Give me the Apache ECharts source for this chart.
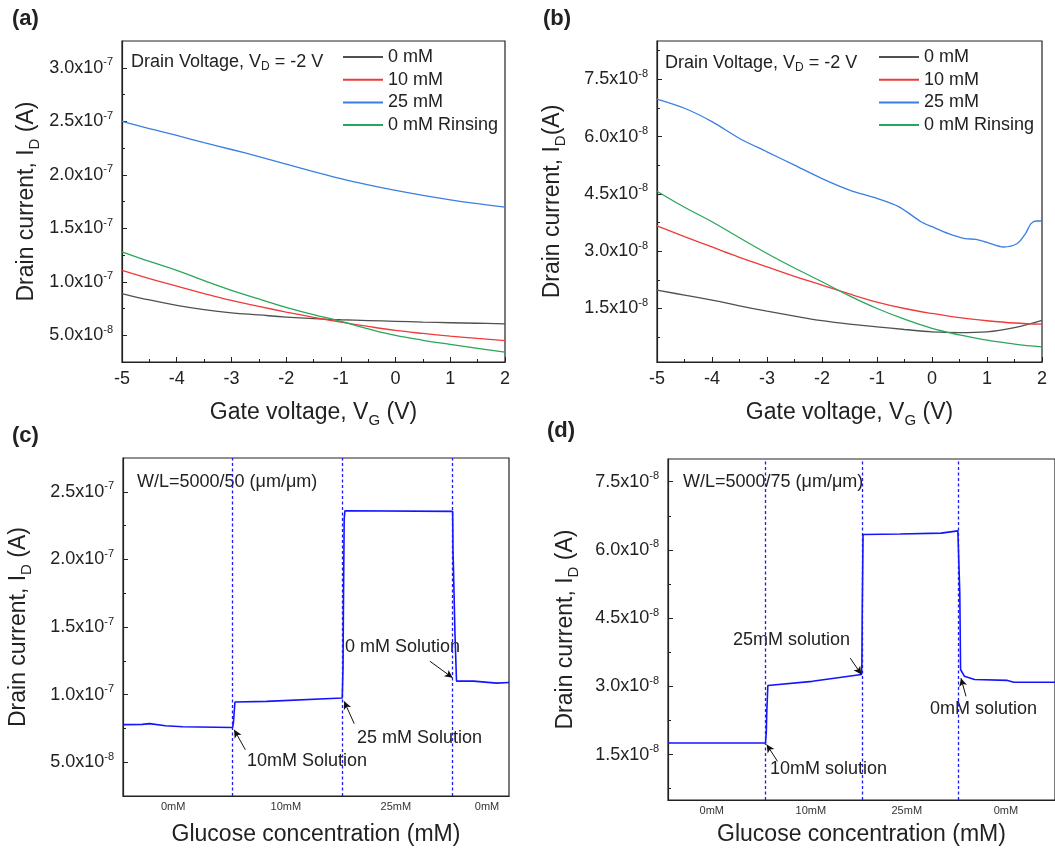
<!DOCTYPE html>
<html>
<head>
<meta charset="utf-8">
<script src="https://cdn.jsdelivr.net/npm/echarts@6/dist/echarts.min.js"></script>
<style>
html,body{margin:0;padding:0;background:#fff;}
#c{width:1055px;height:852px;}
</style>
</head>
<body>
<div id="c"></div>
<script>
// ---------------- DATA ----------------
const seriesNames = ['0 mM', '10 mM', '25 mM', '0 mM Rinsing'];
const seriesColors = ['#505050', '#f03a3a', '#3b7fe0', '#2aa65a'];

const gateV = [-5, -4.5, -4, -3.5, -3, -2.5, -2, -1.5, -1, -0.5, 0, 0.5, 1, 1.5, 2];

// Panel (a)
const a_0mM    = [8.9e-8, 8.3e-8, 7.8e-8, 7.4e-8, 7.1e-8, 6.9e-8, 6.7e-8, 6.55e-8, 6.45e-8, 6.37e-8, 6.3e-8, 6.23e-8, 6.17e-8, 6.12e-8, 6.07e-8];
const a_10mM   = [1.106e-7, 1.03e-7, 9.6e-8, 8.9e-8, 8.25e-8, 7.7e-8, 7.17e-8, 6.68e-8, 6.23e-8, 5.82e-8, 5.45e-8, 5.17e-8, 4.92e-8, 4.7e-8, 4.5e-8];
const a_25mM   = [2.498e-7, 2.43e-7, 2.367e-7, 2.3e-7, 2.236e-7, 2.17e-7, 2.10e-7, 2.03e-7, 1.963e-7, 1.905e-7, 1.853e-7, 1.807e-7, 1.766e-7, 1.73e-7, 1.698e-7];
const a_rinse  = [1.28e-7, 1.19e-7, 1.106e-7, 1.01e-7, 9.2e-8, 8.4e-8, 7.6e-8, 6.93e-8, 6.3e-8, 5.6e-8, 4.98e-8, 4.53e-8, 4.14e-8, 3.77e-8, 3.43e-8];

// Panel (b)
const b_0mM    = [1.98e-8, 1.85e-8, 1.72e-8, 1.57e-8, 1.43e-8, 1.3e-8, 1.18e-8, 1.09e-8, 1.02e-8, 9.5e-9, 8.9e-9, 8.7e-9, 8.9e-9, 1.0e-8, 1.19e-8];
const b_10mM   = [3.66e-8, 3.38e-8, 3.11e-8, 2.84e-8, 2.59e-8, 2.34e-8, 2.11e-8, 1.88e-8, 1.67e-8, 1.5e-8, 1.37e-8, 1.26e-8, 1.18e-8, 1.12e-8, 1.09e-8];
const b_rinse  = [4.57e-8, 4.15e-8, 3.77e-8, 3.35e-8, 2.94e-8, 2.56e-8, 2.2e-8, 1.83e-8, 1.5e-8, 1.22e-8, 9.8e-9, 8.1e-9, 6.7e-9, 5.7e-9, 4.95e-9];
const b_25mM_V = [-5, -4.5, -4, -3.5, -3, -2.5, -2, -1.5, -1, -0.6, -0.2, 0, 0.3, 0.6, 0.8, 1.0, 1.3, 1.55, 1.7, 1.8, 1.9, 2];
const b_25mM   = [6.98e-8, 6.74e-8, 6.39e-8, 5.95e-8, 5.6e-8, 5.25e-8, 4.9e-8, 4.6e-8, 4.38e-8, 4.16e-8, 3.77e-8, 3.64e-8, 3.46e-8, 3.33e-8, 3.31e-8, 3.23e-8, 3.11e-8, 3.2e-8, 3.46e-8, 3.72e-8, 3.79e-8, 3.79e-8];

// Panel (c) transient (time in arbitrary units 0..1000)
const cTime = [0, 50, 69, 110, 155, 284, 286, 290, 372, 568, 570, 571, 573, 575, 854, 855, 856, 860, 864, 908, 968, 1000];
const cCurr = [7.78e-8, 7.8e-8, 7.85e-8, 7.7e-8, 7.62e-8, 7.57e-8, 7.9e-8, 9.45e-8, 9.5e-8, 9.75e-8, 1.2e-7, 1.62e-7, 2.3e-7, 2.36e-7, 2.355e-7, 2.05e-7, 1.95e-7, 1.45e-7, 1.1e-7, 1.1e-7, 1.085e-7, 1.09e-7];
const cSwitch = [284, 568, 854];
const cSegLabelPos = [130, 422, 707, 943];
const segLabels = ['0mM', '10mM', '25mM', '0mM'];

// Panel (d)
const dTime = [0, 252, 254, 255, 258, 373, 500, 501, 502, 504, 600, 706, 749, 751, 754, 756, 766, 792, 877, 894, 1000];
const dCurr = [1.755e-8, 1.755e-8, 2.0e-8, 2.38e-8, 3.02e-8, 3.11e-8, 3.26e-8, 3.5e-8, 4.69e-8, 6.34e-8, 6.35e-8, 6.37e-8, 6.42e-8, 6.4e-8, 5.05e-8, 3.37e-8, 3.22e-8, 3.15e-8, 3.13e-8, 3.09e-8, 3.09e-8];
const dSwitch = [252, 501, 751];
const dSegLabelPos = [113, 369, 617, 873];

// Arrow annotations [tailT, tailI, headT, headI, text]
const cArrows = [
  [317, 5.92e-8, 288, 7.40e-8, '10mM Solution'],
  [599, 7.85e-8, 573, 9.5e-8, '25 mM Solution'],
  [795, 1.247e-7, 854, 1.124e-7, '0 mM Solution']
];
const dArrows = [
  [471, 3.62e-8, 499.6, 3.26e-8, '25mM solution'],
  [283, 1.35e-8, 255, 1.72e-8, '10mM solution'],
  [770, 2.78e-8, 757, 3.18e-8, '0mM solution']
];

// Y tick values
const aYMajor = [5e-8, 1e-7, 1.5e-7, 2e-7, 2.5e-7, 3e-7];
const aYMinor = [7.5e-8, 1.25e-7, 1.75e-7, 2.25e-7, 2.75e-7];
const bYMajor = [1.5e-8, 3e-8, 4.5e-8, 6e-8, 7.5e-8];
const bYMinor = [7.5e-9, 2.25e-8, 3.75e-8, 5.25e-8, 6.75e-8, 8.25e-8];
const cYMajor = [5e-8, 1e-7, 1.5e-7, 2e-7, 2.5e-7];
const cYMinor = [7.5e-8, 1.25e-7, 1.75e-7, 2.25e-7];
const dYMajor = [1.5e-8, 3e-8, 4.5e-8, 6e-8, 7.5e-8];
const dYMinor = [7.5e-9, 2.25e-8, 3.75e-8, 5.25e-8, 6.75e-8];

// ---------------- CHART ----------------
const FONT = '"Liberation Sans", Arial, sans-serif';
const TXT = '#222';

function sci(v) {
  const e = Math.floor(Math.log10(v) + 1e-9);
  const m = v / Math.pow(10, e);
  return '{m|' + m.toFixed(1) + 'x10}{e|' + e + '}';
}
const sciRich = {
  m: { fontSize: 18, lineHeight: 22, fontFamily: FONT, color: TXT },
  e: { fontSize: 11, lineHeight: 12, fontFamily: FONT, color: TXT, verticalAlign: 'top' }
};
const nameRich = {
  n: { fontSize: 23, lineHeight: 30, fontFamily: FONT, color: TXT },
  s: { fontSize: 15, lineHeight: 16, fontFamily: FONT, color: TXT, verticalAlign: 'bottom' }
};

const grids = [
  { left: 122, top: 41, width: 383, height: 321 },
  { left: 657, top: 41, width: 385, height: 321 },
  { left: 123, top: 458, width: 386, height: 338 },
  { left: 668, top: 459, width: 390, height: 341 }
].map(g => Object.assign({ show: true, borderColor: TXT, borderWidth: 1.2, backgroundColor: 'transparent' }, g));

function gateXAxis(gi, gap) {
  return {
    type: 'value', gridIndex: gi, min: -5, max: 2, interval: 1,
    axisLine: { show: true, onZero: false, lineStyle: { color: TXT, width: 1.2 } },
    axisTick: { show: true, inside: true, length: 5, lineStyle: { color: TXT } },
    minorTick: { show: true, splitNumber: 2, length: 3, lineStyle: { color: TXT } },
    splitLine: { show: false },
    axisLabel: { fontSize: 18, fontFamily: FONT, color: TXT, margin: 8 },
    name: '{n|Gate voltage, V}{s|G}{n| (V)}',
    nameLocation: 'middle', nameGap: gap,
    nameTextStyle: { rich: nameRich }
  };
}
function timeXAxis(gi, pos, gap) {
  return {
    type: 'value', gridIndex: gi, min: 0, max: 1000,
    axisLine: { show: true, onZero: false, lineStyle: { color: TXT, width: 1.2 } },
    axisTick: { show: false },
    splitLine: { show: false },
    axisLabel: {
      customValues: pos, fontSize: 11, fontFamily: FONT, color: '#333', margin: 5,
      formatter: v => segLabels[pos.indexOf(v)]
    },
    name: 'Glucose concentration (mM)',
    nameLocation: 'middle', nameGap: gap,
    nameTextStyle: { fontSize: 23, fontFamily: FONT, color: TXT }
  };
}
function yMain(gi, min, max, major, name, gap) {
  return {
    type: 'value', gridIndex: gi, min: min, max: max, position: 'left',
    axisLine: { show: true, onZero: false, lineStyle: { color: TXT, width: 1.2 } },
    axisTick: { show: true, inside: true, length: 5, customValues: major, lineStyle: { color: TXT } },
    splitLine: { show: false },
    axisLabel: { customValues: major, formatter: sci, rich: sciRich, margin: 9 },
    name: name, nameLocation: 'middle', nameGap: gap,
    nameTextStyle: { rich: nameRich }
  };
}
function yMinor(gi, min, max, minor) {
  return {
    type: 'value', gridIndex: gi, min: min, max: max, position: 'left',
    axisLine: { show: false, onZero: false },
    axisTick: { show: true, inside: true, length: 3, customValues: minor, lineStyle: { color: TXT } },
    splitLine: { show: false },
    axisLabel: { show: false }
  };
}

function pairs(xs, ys) { return xs.map((x, i) => [x, ys[i]]); }

function ivSeries(xi, yi, xs, data, idx, smooth) {
  return {
    type: 'line', name: seriesNames[idx], xAxisIndex: xi, yAxisIndex: yi,
    data: pairs(xs, data), showSymbol: false, symbol: 'none', smooth: smooth,
    lineStyle: { color: seriesColors[idx], width: 1.3 },
    itemStyle: { color: seriesColors[idx] },
    animation: false, silent: true
  };
}

function markLines(switches, arrows) {
  const data = switches.map(s => ({
    xAxis: s, symbol: 'none',
    lineStyle: { color: '#1a1aff', width: 1.3, type: [3, 2.5] }
  }));
  arrows.forEach(a => {
    data.push([
      { coord: [a[0], a[1]], symbol: 'none', lineStyle: { color: '#111', width: 1, type: 'solid' } },
      { coord: [a[2], a[3]], symbol: 'arrow', symbolSize: [6, 8] }
    ]);
  });
  return { silent: true, animation: false, symbol: ['none', 'none'], label: { show: false }, data: data };
}

function stepSeries(xi, yi, t, v, switches, arrows) {
  return {
    type: 'line', xAxisIndex: xi, yAxisIndex: yi, data: pairs(t, v),
    showSymbol: false, symbol: 'none', smooth: false,
    lineStyle: { color: '#1414ff', width: 1.6 },
    animation: false, silent: true,
    markLine: markLines(switches, arrows)
  };
}

const yName = '{n|Drain current, I}{s|D}{n| (A)}';
const yNameB = '{n|Drain current, I}{s|D}{n|(A)}';

function txt(x, y, str, size, bold) {
  return {
    type: 'text', x: x, y: y, silent: true,
    style: {
      text: str, fill: TXT, verticalAlign: 'middle',
      font: (bold ? 'bold ' : '') + size + 'px ' + FONT
    }
  };
}
function richTxt(x, y, str) {
  return {
    type: 'text', x: x, y: y, silent: true,
    style: {
      text: str, verticalAlign: 'middle',
      rich: {
        n: { fontSize: 18, lineHeight: 22, fontFamily: FONT, fill: TXT, color: TXT },
        s: { fontSize: 12, lineHeight: 12, fontFamily: FONT, fill: TXT, color: TXT, verticalAlign: 'bottom' }
      }
    }
  };
}

const legendBase = {
  orient: 'vertical', itemWidth: 40, itemHeight: 2, itemGap: 4.7, icon: 'rect',
  selectedMode: false, data: seriesNames,
  textStyle: { fontSize: 18, lineHeight: 18, fontFamily: FONT, color: TXT, padding: [0, 0, 0, 0] }
};

const option = {
  backgroundColor: '#fff',
  animation: false,
  grid: grids,
  xAxis: [gateXAxis(0, 36), gateXAxis(1, 36), timeXAxis(2, cSegLabelPos, 27), timeXAxis(3, dSegLabelPos, 23)],
  yAxis: [
    yMain(0, 2.5e-8, 3.25e-7, aYMajor, yName, 80),
    yMain(1, 1e-9, 8.5e-8, bYMajor, yNameB, 89),
    yMain(2, 2.5e-8, 2.75e-7, cYMajor, yName, 89),
    yMain(3, 5e-9, 8e-8, dYMajor, yName, 87),
    yMinor(0, 2.5e-8, 3.25e-7, aYMinor),
    yMinor(1, 1e-9, 8.5e-8, bYMinor),
    yMinor(2, 2.5e-8, 2.75e-7, cYMinor),
    yMinor(3, 5e-9, 8e-8, dYMinor)
  ],
  legend: [
    Object.assign({ left: 338, top: 43 }, legendBase),
    Object.assign({ left: 874, top: 43 }, legendBase)
  ],
  series: [
    ivSeries(0, 0, gateV, a_0mM, 0, 0.4),
    ivSeries(0, 0, gateV, a_10mM, 1, 0.4),
    ivSeries(0, 0, gateV, a_25mM, 2, 0.4),
    ivSeries(0, 0, gateV, a_rinse, 3, 0.4),
    ivSeries(1, 1, gateV, b_0mM, 0, 0.4),
    ivSeries(1, 1, gateV, b_10mM, 1, 0.4),
    ivSeries(1, 1, b_25mM_V, b_25mM, 2, 0.3),
    ivSeries(1, 1, gateV, b_rinse, 3, 0.4),
    stepSeries(2, 2, cTime, cCurr, cSwitch, cArrows),
    stepSeries(3, 3, dTime, dCurr, dSwitch, dArrows)
  ],
  graphic: [
    txt(12, 19, '(a)', 22, true),
    txt(543, 19, '(b)', 22, true),
    txt(12, 436, '(c)', 22, true),
    txt(547, 431, '(d)', 22, true),
    richTxt(131, 62, '{n|Drain Voltage, V}{s|D}{n| = -2 V}'),
    richTxt(665, 63, '{n|Drain Voltage, V}{s|D}{n| = -2 V}'),
    txt(137, 482, 'W/L=5000/50 (μm/μm)', 18),
    txt(247, 761, cArrows[0][4], 18),
    txt(357, 738, cArrows[1][4], 18),
    txt(345, 647, cArrows[2][4], 18),
    txt(683, 482, 'W/L=5000/75 (μm/μm)', 18),
    txt(733, 640, dArrows[0][4], 18),
    txt(770, 769, dArrows[1][4], 18),
    txt(930, 709, dArrows[2][4], 18)
  ]
};

const chart = echarts.init(document.getElementById('c'), null, { renderer: 'canvas' });
chart.setOption(option);
</script>
</body>
</html>
